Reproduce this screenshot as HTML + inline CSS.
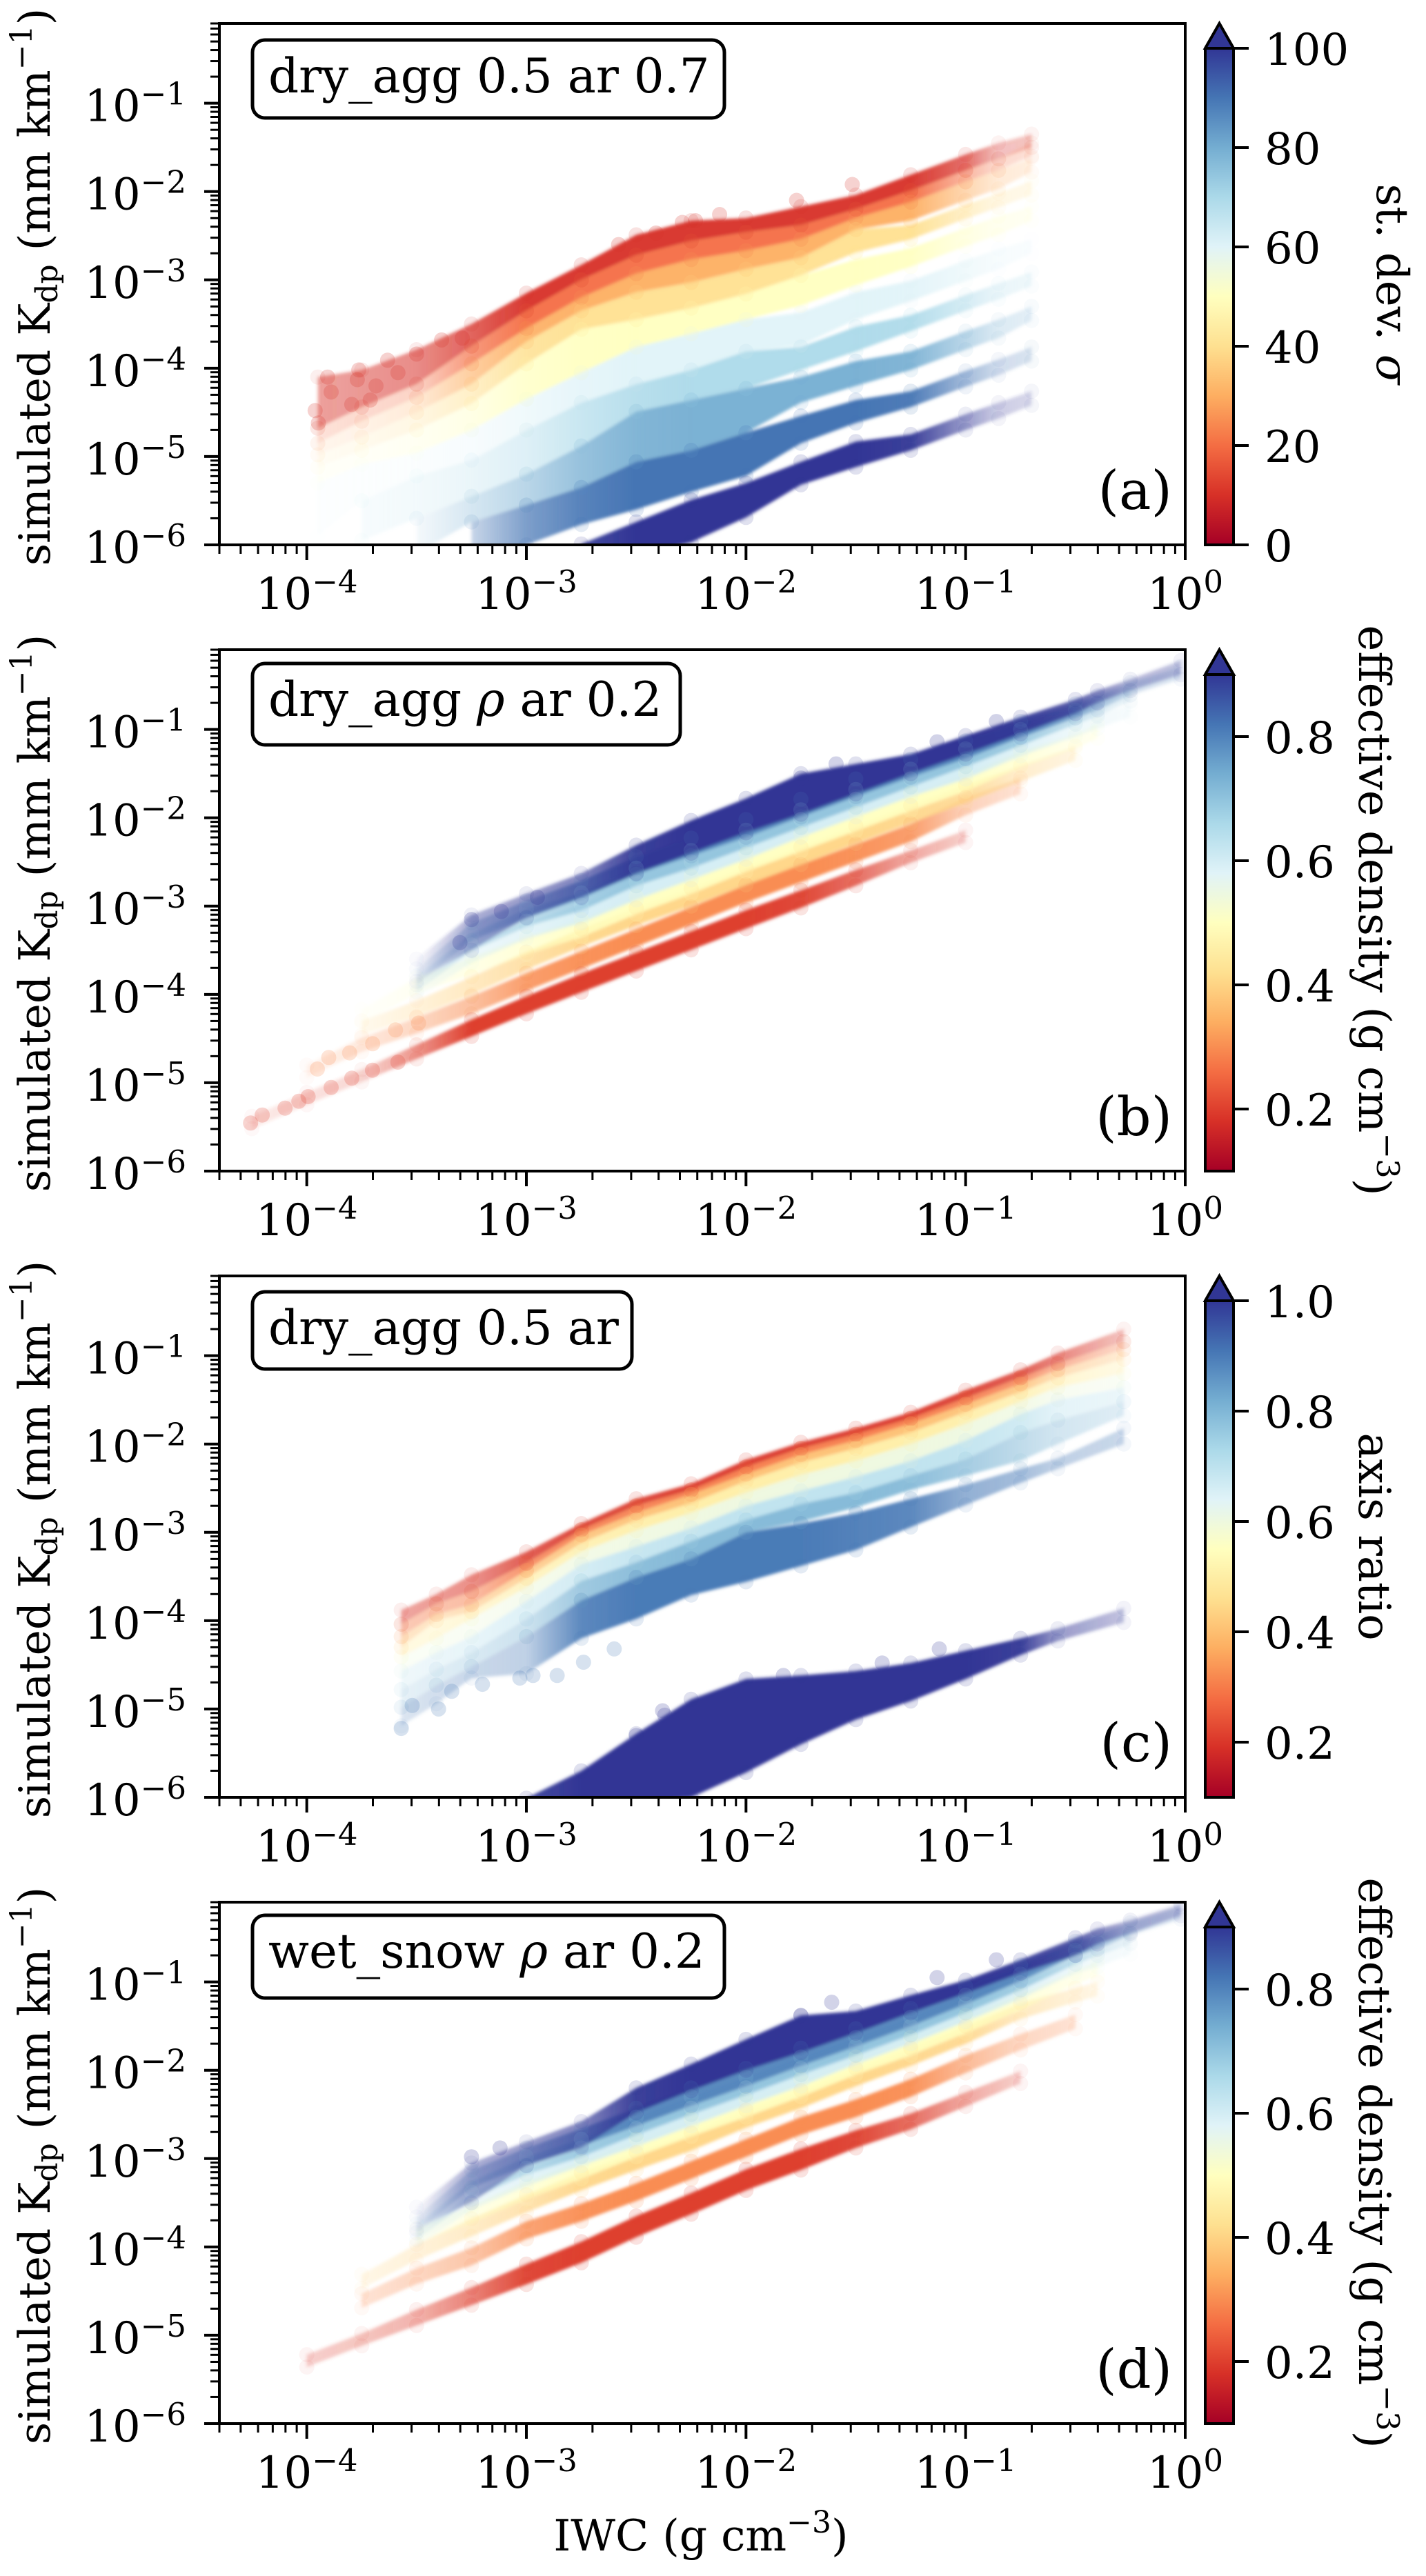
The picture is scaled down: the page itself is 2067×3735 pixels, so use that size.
<!DOCTYPE html>
<html lang="en">
<head>
<meta charset="utf-8">
<title>Simulated Kdp versus IWC</title>
<style>
html,body{margin:0;padding:0;background:#fff;}
svg{display:block;}
text{font-family:"DejaVu Serif","Liberation Serif",serif;fill:#000;}
</style>
</head>
<body>
<svg id="figure" xmlns="http://www.w3.org/2000/svg" width="2067" height="3735" viewBox="0 0 2067 3735">
<defs><filter id="soft" x="-5%" y="-5%" width="110%" height="110%"><feGaussianBlur stdDeviation="2.5"/></filter></defs>
</svg>
<script>
const _ = null;

/* shared axis ticks */
const xTickExponents = [-4,-3,-2,-1,0];
const yTickExponents = [-6,-5,-4,-3,-2,-1];
const colormapStops = ['#a50026','#d73027','#f46d43','#fdae61','#fee090','#ffffbf','#e0f3f8','#abd9e9','#74add1','#4575b4','#313695'];

/* panel (a): log10 IWC nodes and log10 Kdp envelopes per st. dev. */
const aIwc = [-3.95,-3.75,-3.5,-3.25,-3,-2.75,-2.5,-2.25,-2,-1.75,-1.5,-1.25,-1,-.85,-.7];
const aTop10 = [-4.10,-4.02,-3.79,-3.50,-3.15,-2.83,-2.49,-2.33,-2.30,-2.17,-2.04,-1.81,-1.58,-1.45,-1.35];
const aBot10 = [-4.68,-4.44,-4.18,-3.75,-3.35,-3.0,-2.72,-2.56,-2.46,-2.38,-2.20,-1.99,-1.76,-1.63,-1.5];
const aDen10 = [.45,.5,.55,.75,.95,.95,.95,.95,.95,.95,.95,.95,.7,.3,.28];
const aTop20 = [-4.68,-4.44,-4.18,-3.75,-3.35,-3.0,-2.72,-2.56,-2.46,-2.38,-2.20,-1.99,-1.76,-1.63,-1.45];
const aBot20 = [-4.85,-4.6,-4.33,-3.95,-3.55,-3.2,-2.93,-2.77,-2.67,-2.54,-2.30,-2.12,-1.89,-1.76,-1.6];
const aDen20 = [.2,.25,.3,.7,.95,.95,.95,.95,.95,.95,.95,.95,.5,.25,.22];
const aTop30 = [-4.85,-4.6,-4.33,-3.95,-3.55,-3.2,-2.93,-2.77,-2.67,-2.54,-2.30,-2.12,-1.89,-1.76,-1.62];
const aBot30 = [-4.98,-4.78,-4.5,-4.18,-3.7,-3.35,-3.14,-3.03,-2.88,-2.75,-2.43,-2.33,-2.10,-1.97,-1.78];
const aDen30 = [.12,.15,.25,.6,.9,.95,.95,.95,.95,.95,.95,.95,.5,.25,.2];
const aTop40 = [-4.98,-4.78,-4.5,-4.18,-3.7,-3.35,-3.14,-3.03,-2.88,-2.75,-2.43,-2.38,-2.15,-2.02,-1.88];
const aBot40 = [-5.12,-4.93,-4.7,-4.4,-3.95,-3.56,-3.45,-3.32,-3.16,-2.95,-2.69,-2.54,-2.31,-2.18,-2.04];
const aDen40 = [.1,.15,.25,.5,.85,.95,.95,.95,.95,.95,.95,.95,.5,.25,.2];
const aTop50 = [-5.12,-4.93,-4.7,-4.4,-3.95,-3.56,-3.45,-3.32,-3.16,-2.95,-2.77,-2.64,-2.41,-2.28,-2.17];
const aBot50 = [-5.3,-5.09,-4.96,-4.7,-4.35,-4.05,-3.76,-3.61,-3.45,-3.29,-3.06,-2.85,-2.62,-2.49,-2.33];
const aDen50 = [.1,.12,.2,.4,.75,.9,.95,.95,.95,.95,.95,.9,.45,.25,.2];
const aTop60 = [-5.3,-5.09,-4.96,-4.7,-4.35,-4.05,-3.76,-3.61,-3.45,-3.37,-3.14,-3.01,-2.78,-2.65,-2.54];
const aBot60 = [-5.9,-5.5,-5.22,-5.04,-4.7,-4.39,-4.18,-4.02,-3.81,-3.74,-3.45,-3.24,-3.01,-2.88,-2.7];
const aDen60 = [.1,.12,.15,.25,.5,.8,.95,.95,.95,.95,.95,.9,.5,.25,.2];
const aTop70 = [_,-5.5,-5.22,-5.04,-4.7,-4.39,-4.18,-4.02,-3.81,-3.76,-3.53,-3.40,-3.17,-3.04,-2.91];
const aBot70 = [_,-5.95,-5.7,-5.45,-5.2,-4.88,-4.49,-4.36,-4.23,-4.02,-3.81,-3.58,-3.35,-3.22,-3.07];
const aDen70 = [_,.1,.15,.25,.4,.65,.85,.95,.95,.95,.95,.9,.5,.25,.2];
const aTop80 = [_,_,-5.7,-5.45,-5.2,-4.88,-4.49,-4.36,-4.23,-4.10,-3.92,-3.81,-3.58,-3.45,-3.30];
const aBot80 = [_,_,-6.1,-5.74,-5.55,-5.35,-5.06,-4.93,-4.73,-4.39,-4.20,-4.02,-3.79,-3.66,-3.46];
const aDen80 = [_,_,.08,.3,.5,.75,.9,.95,.95,.95,.95,.9,.5,.25,.2];
const aTop90 = [_,_,_,-5.74,-5.55,-5.35,-5.06,-4.93,-4.73,-4.54,-4.36,-4.26,-4.03,-3.90,-3.76];
const aBot90 = [_,_,_,-6.2,-6.0,-5.77,-5.6,-5.4,-5.22,-4.85,-4.62,-4.44,-4.21,-4.08,-3.92];
const aDen90 = [_,_,_,.3,.7,.9,1,1,1,1,1,.95,.5,.25,.2];
const aTop100 = [_,_,_,_,_,-5.99,-5.74,-5.49,-5.30,-5.06,-4.83,-4.75,-4.52,-4.39,-4.26];
const aBot100 = [_,_,_,_,_,-6.2,-6.13,-5.97,-5.69,-5.32,-5.12,-4.93,-4.70,-4.57,-4.42];
const aDen100 = [_,_,_,_,_,.9,1,1,1,1,1,.95,.5,.25,.2];
const aValues = [10,20,30,40,50,60,70,80,90,100];
const aTicks = [0,20,40,60,80,100];
/* panel (a): individually visible low-density points at st. dev. 10 */
const aPointIwc = [-3.905,-3.947,-3.889,-3.962,-3.763,-3.77,-3.795,-3.685,-3.711,-3.632,-3.585,-3.50,-3.386,-3.292,-1.516,-1.77,-2.12,-2.23,-2.29,-2.41,-2.58];
const aPointKdp = [-4.10,-4.62,-4.27,-4.48,-4.02,-4.13,-4.41,-4.20,-4.36,-3.91,-4.05,-3.84,-3.68,-3.66,-1.92,-2.10,-2.26,-2.33,-2.35,-2.47,-2.60];

/* panel (b): centre and half-width of each effective density band */
const bIwc = [-4.25,-4,-3.75,-3.5,-3.25,-3,-2.75,-2.5,-2.25,-2,-1.75,-1.5,-1.25,-1,-.75,-.5,-.4,-.25,-.02];
const bSpread = [.07,.07,.08,.09,.1,.1,.1,.1,.1,.1,.1,.1,.1,.1,.09,.08,.08,.07,.07];
const bMid02 = [-5.45,-5.18,-4.92,-4.65,-4.38,-4.12,-3.87,-3.63,-3.39,-3.15,-2.92,-2.68,-2.44,-2.21,_,_,_,_,_];
const bSpread02 = [.07,.07,.07,.08,.095,.1,.105,.105,.105,.105,.1,.09,.07,.07,_,_,_,_,_];
const bDen02 = [.12,.15,.2,.55,1,1,1,1,1,1,.95,.75,.45,.25,_,_,_,_,_];
const bMid03 = [_,-4.87,-4.57,-4.35,-4.12,-3.86,-3.61,-3.36,-3.11,-2.86,-2.63,-2.40,-2.17,-1.87,-1.64,_,_,_,_];
const bDen03 = [_,.1,.2,.35,.55,.85,.95,1,1,1,1,.95,.85,.4,.25,_,_,_,_];
const bMid04 = [_,_,-4.38,-4.16,-3.90,-3.62,-3.36,-3.12,-2.90,-2.66,-2.43,-2.19,-1.96,-1.73,-1.50,-1.27,_,_,_];
const bDen04 = [_,_,.15,.3,.5,.7,.9,.95,.95,.95,.95,.95,.9,.8,.4,.25,_,_,_];
const bMid05 = [_,_,-4.25,-3.90,-3.68,-3.45,-3.25,-2.99,-2.76,-2.51,-2.28,-2.05,-1.82,-1.60,-1.34,-1.14,-1.02,_,_];
const bDen05 = [_,_,.08,.2,.4,.6,.85,.95,.95,.95,.95,.95,.95,.9,.6,.3,.25,_,_];
const bMid06 = [_,_,_,-3.95,-3.54,-3.27,-3.09,-2.83,-2.60,-2.37,-2.12,-1.89,-1.66,-1.46,-1.21,-1.0,-.91,-.79,_];
const bDen06 = [_,_,_,.1,.4,.6,.85,.95,.95,.95,.95,.95,.95,.95,.7,.4,.3,.2,_];
const bMid07 = [_,_,_,-3.88,-3.41,-3.13,-2.95,-2.67,-2.47,-2.24,-2.01,-1.78,-1.55,-1.32,-1.09,-.86,-.77,-.61,_];
const bDen07 = [_,_,_,.12,.35,.55,.8,.95,.95,.95,.95,.95,.95,.95,.8,.5,.3,.2,_];
const bMid08 = [_,_,_,-3.8,-3.29,-3.04,-2.81,-2.54,-2.33,-2.12,-1.89,-1.66,-1.44,-1.23,-1.0,-.79,-.70,-.54,-.36];
const bDen08 = [_,_,_,.08,.35,.5,.75,.95,.95,.95,.95,.95,.95,.95,.9,.6,.4,.25,.2];
const bTop09 = [_,_,_,-3.6,-3.1,-2.86,-2.63,-2.31,-2.03,-1.78,-1.50,-1.39,-1.28,-1.07,-.86,-.66,-.56,-.43,-.22];
const bBot09 = [_,_,_,-3.85,-3.5,-3.13,-2.90,-2.63,-2.40,-2.17,-1.96,-1.73,-1.50,-1.28,-1.05,-.82,-.70,-.56,-.38];
const bDen09 = [_,_,_,.03,.4,.5,.6,.95,1,1,1,1,1,1,.95,.8,.6,.35,.3];
const densityTicks = [.2,.4,.6,.8];
/* panel (b): individually visible low-density points */
const bLowIwc = [-4.256,-4.203,-4.099,-4.036,-3.994,-3.889,-3.795,-3.701,-3.585];
const bLowKdp = [-5.456,-5.365,-5.287,-5.209,-5.157,-5.053,-4.948,-4.858,-4.766];
const bMidIwc = [-3.952,-3.90,-3.805,-3.70,-3.596,-3.491];
const bMidKdp = [-4.844,-4.714,-4.662,-4.558,-4.402,-4.324];
const bHighIwc = [-3.25,-3.114,-3.303,-2.95,-1.75,-1.59,-.86,-1.13];
const bHighKdp = [-3.152,-3.061,-3.413,-2.90,-1.55,-1.39,-.91,-1.14];

/* panel (c): log10 Kdp edges per axis ratio band */
const cIwc = [-3.57,-3.41,-3.25,-3,-2.75,-2.5,-2.25,-2,-1.75,-1.5,-1.25,-1,-.75,-.58,-.28];
const cEdge0 = [-3.88,-3.70,-3.48,-3.22,-2.90,-2.62,-2.45,-2.18,-1.98,-1.82,-1.64,-1.39,-1.16,-.97,-.70];
const cEdge1 = [-4.04,-3.81,-3.67,-3.35,-2.97,-2.70,-2.52,-2.26,-2.05,-1.89,-1.71,-1.48,-1.25,-1.09,-.84];
const cEdge2 = [-4.18,-3.93,-3.82,-3.43,-3.03,-2.78,-2.57,-2.34,-2.12,-1.96,-1.77,-1.55,-1.32,-1.16,-.93];
const cEdge3 = [-4.30,-4.0,-3.90,-3.52,-3.12,-2.86,-2.67,-2.42,-2.21,-2.05,-1.87,-1.64,-1.41,-1.25,-1.04];
const cEdge4 = [-4.41,-4.20,-3.98,-3.62,-3.22,-2.98,-2.78,-2.55,-2.35,-2.19,-2.0,-1.77,-1.52,-1.36,-1.20];
const cEdge5 = [-4.57,-4.36,-4.18,-3.78,-3.36,-3.16,-2.95,-2.70,-2.53,-2.37,-2.19,-1.96,-1.66,-1.50,-1.36];
const cEdge6 = [-4.78,-4.55,-4.36,-3.98,-3.55,-3.34,-3.10,-2.86,-2.68,-2.55,-2.36,-2.17,-1.87,-1.73,-1.52];
const cEdge7 = [-4.98,-4.73,-4.52,-4.18,-3.77,-3.51,-3.30,-3.0,-2.88,-2.72,-2.52,-2.36,-2.19,-2.0,-1.68];
const cTop09 = [-4.98,-4.73,-4.52,-4.18,-3.77,-3.51,-3.30,-3.0,-2.90,-2.78,-2.62,-2.46,-2.28,-2.16,-1.82];
const cBot09 = [-5.19,-4.94,-4.65,-4.60,-4.2,-3.98,-3.71,-3.56,-3.38,-3.20,-2.94,-2.69,-2.44,-2.28,-2.0];
const cTop10 = [_,_,_,-6.01,-5.70,-5.28,-4.89,-4.66,-4.62,-4.57,-4.48,-4.34,-4.20,-4.09,-3.86];
const cBot10 = [_,_,_,-6.1,-6.08,-6.06,-6.0,-5.72,-5.40,-5.12,-4.91,-4.66,-4.39,-4.23,-4.02];
const cDen02 = [.45,.5,.55,.8,.9,.9,.95,.95,.95,.95,.95,.9,.8,.6,.3];
const cDen03 = [.4,.45,.5,.8,.9,.9,.95,.95,.95,.95,.95,.9,.8,.55,.3];
const cDen04 = [.4,.4,.5,.7,.85,.9,.95,.95,.95,.95,.95,.9,.8,.5,.3];
const cDen05 = [.35,.35,.45,.65,.8,.9,.95,.95,.95,.95,.95,.9,.75,.5,.3];
const cDen06 = [.3,.3,.35,.55,.75,.85,.9,.95,.95,.95,.95,.9,.75,.45,.3];
const cDen07 = [.25,.3,.35,.5,.65,.85,.9,.95,.95,.95,.95,.9,.7,.4,.3];
const cDen08 = [.2,.25,.3,.4,.75,.9,.95,.95,.95,.95,.9,.7,.5,.35,.25];
const cDen09 = [.2,.25,.3,.35,.9,1,1,1,1,.95,.9,.6,.5,.35,.3];
const cDen10 = [_,_,_,.9,1,1,1,1,1,1,1,1,.95,.5,.3];
const ratioTicks = [.2,.4,.6,.8,1.0];
/* panel (c): individually visible low-density points at axis ratio 0.9 and 1.0 */
const cTailIwc = [-3.57,-3.52,-3.40,-3.34,-3.20,-3.03,-2.97,-2.86,-2.74,-2.6];
const cTailKdp = [-5.22,-4.96,-5.0,-4.8,-4.72,-4.65,-4.62,-4.62,-4.47,-4.32];
const cNavyIwc = [-1.12,-1.38,-1.83,-2.02,-2.37,-2.5,-2.38];
const cNavyKdp = [-4.32,-4.48,-4.62,-4.80,-5.07,-5.3,-5.02];

/* panel (d): centre and half-width of each effective density band */
const dIwc = [-4.25,-4,-3.75,-3.5,-3.25,-3,-2.75,-2.5,-2.25,-2,-1.75,-1.5,-1.25,-1,-.75,-.5,-.4,-.25,-.02];
const dSpread = [.07,.07,.08,.09,.1,.1,.1,.1,.1,.1,.1,.1,.1,.1,.09,.08,.08,.07,.07];
const dMid02 = [_,-5.29,-5.05,-4.80,-4.56,-4.31,-4.06,-3.77,-3.51,-3.24,-3.01,-2.78,-2.58,-2.33,-2.08,_,_,_,_];
const dSpread02 = [_,.07,.07,.09,.1,.115,.12,.12,.12,.12,.12,.1,.09,.08,.07,_,_,_,_];
const dDen02 = [_,.25,.3,.4,.65,.95,1,1,1,1,1,.95,.75,.45,.25,_,_,_,_];
const dMid03 = [_,_,-4.61,-4.33,-4.11,-3.81,-3.61,-3.38,-3.13,-2.88,-2.63,-2.43,-2.20,-1.93,-1.68,-1.45,_,_,_];
const dDen03 = [_,_,.25,.35,.5,.8,.95,1,1,1,1,1,.95,.6,.35,.25,_,_,_];
const dMid04 = [_,_,-4.39,-4.06,-3.78,-3.51,-3.26,-3.03,-2.81,-2.55,-2.33,-2.08,-1.85,-1.60,-1.33,-1.15,-1.08,_,_];
const dDen04 = [_,_,.2,.3,.45,.65,.9,.95,.95,.95,.95,.95,.9,.85,.5,.3,.2,_,_];
const dMid05 = [_,_,_,-3.88,-3.63,-3.36,-3.13,-2.88,-2.65,-2.43,-2.20,-1.95,-1.73,-1.48,-1.23,-.95,-.85,_,_];
const dDen05 = [_,_,_,.2,.4,.6,.85,.95,.95,.95,.95,.95,.95,.9,.6,.3,.25,_,_];
const dMid06 = [_,_,_,-3.9,-3.48,-3.21,-2.98,-2.76,-2.53,-2.30,-2.08,-1.83,-1.60,-1.35,-1.10,-.82,-.75,-.62,_];
const dDen06 = [_,_,_,.1,.4,.6,.85,.95,.95,.95,.95,.95,.95,.95,.7,.4,.3,.2,_];
const dMid07 = [_,_,_,-3.83,-3.36,-3.08,-2.88,-2.63,-2.40,-2.18,-1.95,-1.73,-1.50,-1.25,-1.00,-.72,-.62,-.50,_];
const dDen07 = [_,_,_,.12,.35,.55,.8,.95,.95,.95,.95,.95,.95,.95,.8,.5,.3,.2,_];
const dMid08 = [_,_,_,-3.75,-3.23,-2.98,-2.76,-2.53,-2.30,-2.08,-1.85,-1.63,-1.40,-1.15,-.90,-.62,-.55,-.40,-.22];
const dDen08 = [_,_,_,.08,.35,.5,.75,.95,.95,.95,.95,.95,.95,.95,.9,.6,.4,.25,.2];
const dTop09 = [_,_,_,-3.55,-3.05,-2.81,-2.58,-2.20,-1.93,-1.65,-1.38,-1.33,-1.15,-.98,-.75,-.50,-.40,-.30,-.12];
const dBot09 = [_,_,_,-3.8,-3.5,-3.08,-2.88,-2.48,-2.23,-2.00,-1.80,-1.58,-1.35,-1.13,-.90,-.70,-.57,-.45,-.25];
const dDen09 = [_,_,_,.03,.4,.5,.6,.95,1,1,1,1,1,1,.95,.8,.6,.35,.3];
/* panel (d): individually visible low-density points */
const dHighIwc = [-3.25,-3.12,-1.75,-1.61,-.86,-1.13];
const dHighKdp = [-2.98,-2.88,-1.38,-1.23,-.75,-.95];

const svg = document.getElementById('figure');
const NS = 'http://www.w3.org/2000/svg';
const plotLeft = 318, plotRight = 1718, plotHeight = 756, barLeft = 1747, barRight = 1788, arrowHeight = 36;
const xLogMin = Math.log10(4e-5), yLogMin = -6, yLogMax = Math.log10(0.8);

function xScale(logIwc){ return plotLeft + (logIwc - xLogMin) / (0 - xLogMin) * (plotRight - plotLeft); }
function yScale(logKdp, bottom){ return bottom - (logKdp - yLogMin) / (yLogMax - yLogMin) * plotHeight; }
function make(tag, parent, attrs){
  const node = document.createElementNS(NS, tag);
  for (const k in attrs) node.setAttribute(k, attrs[k]);
  parent.appendChild(node);
  return node;
}
function hex(c){ return [parseInt(c.substr(1,2),16),parseInt(c.substr(3,2),16),parseInt(c.substr(5,2),16)]; }
function colormap(t){
  const p = Math.max(0, Math.min(1, t)) * (colormapStops.length - 1);
  const i = Math.min(Math.floor(p), colormapStops.length - 2);
  const a = hex(colormapStops[i]), b = hex(colormapStops[i + 1]), f = p - i;
  return 'rgb(' + a.map((v, n) => Math.round(v + (b[n] - v) * f)).join(',') + ')';
}
function fromCentre(mid, spread, side){ return mid.map((v, i) => v === null ? null : v + side * spread[i]); }
function minus(n){ return n < 0 ? '\u2212' + (-n) : String(n); }
let gradientCount = 0;

function drawBand(layer, dots, panel, iwc, top, bot, den, norm, bottom){
  const idx = iwc.map((v, i) => i).filter(i => top[i] !== null && top[i] !== undefined);
  const color = colormap(norm);
  const x0 = xScale(iwc[idx[0]]), x1 = xScale(iwc[idx[idx.length - 1]]);
  const id = 'band-fill-' + (++gradientCount);
  const defs = svg.querySelector('defs');
  const grad = make('linearGradient', defs, {id: id, gradientUnits: 'userSpaceOnUse', x1: x0, x2: x1, y1: 0, y2: 0});
  idx.forEach(i => make('stop', grad, {offset: (xScale(iwc[i]) - x0) / (x1 - x0), 'stop-color': color, 'stop-opacity': den[i]}));
  const upper = idx.map(i => xScale(iwc[i]).toFixed(1) + ',' + yScale(top[i], bottom).toFixed(1));
  const lower = idx.slice().reverse().map(i => xScale(iwc[i]).toFixed(1) + ',' + yScale(bot[i], bottom).toFixed(1));
  const band = make('polygon', layer, {points: upper.concat(lower).join(' '), fill: 'url(#' + id + ')'});
  
  
  idx.forEach(i => {
    [top[i], bot[i]].forEach(v => {
      const dot = make('circle', dots, {cx: xScale(iwc[i]).toFixed(1), cy: yScale(v, bottom).toFixed(1), r: 11, fill: color, 'fill-opacity': (0.13 * den[i] + 0.02).toFixed(3)});
      
      
    });
  });
}

function drawPoints(dots, panel, iwc, kdp, norm, bottom){
  const color = colormap(norm);
  iwc.forEach((v, i) => {
    const dot = make('circle', dots, {cx: xScale(v).toFixed(1), cy: yScale(kdp[i], bottom).toFixed(1), r: 11, fill: color, 'fill-opacity': 0.22});
    
    
  });
}

function drawAxes(panel, top, bottom){
  const g = make('g', svg, {});
  
  
  const frame = make('rect', g, {x: plotLeft, y: top, width: plotRight - plotLeft, height: plotHeight, fill: 'none', stroke: '#000', 'stroke-width': 4});
  
  
  for (let d = -5; d <= 0; d++) for (let k = 2; k <= 9; k++) {
    const v = d + Math.log10(k) - 1;
    if (v < xLogMin - 1e-6 || v > 0) continue;
    const tick = make('line', g, {x1: xScale(v), x2: xScale(v), y1: bottom, y2: bottom + 13, stroke: '#000', 'stroke-width': 3});
    
    
  }
  for (let d = -6; d <= -1; d++) for (let k = 2; k <= 9; k++) {
    const v = d + Math.log10(k);
    if (v > yLogMax + 1e-6) continue;
    const tick = make('line', g, {x1: plotLeft - 13, x2: plotLeft, y1: yScale(v, bottom), y2: yScale(v, bottom), stroke: '#000', 'stroke-width': 3});
    
    
  }
  xTickExponents.forEach(e => {
    const tick = make('line', g, {x1: xScale(e), x2: xScale(e), y1: bottom, y2: bottom + 22, stroke: '#000', 'stroke-width': 4});
    
    
    const label = make('text', g, {x: xScale(e), y: bottom + 93, 'font-size': 64, 'text-anchor': 'middle'});
    
    
    label.innerHTML = '10<tspan dy="-24" font-size="45">' + minus(e) + '</tspan>';
  });
  yTickExponents.forEach(e => {
    const tick = make('line', g, {x1: plotLeft - 22, x2: plotLeft, y1: yScale(e, bottom), y2: yScale(e, bottom), stroke: '#000', 'stroke-width': 4});
    
    
    const label = make('text', g, {x: 270, y: yScale(e, bottom) + 26, 'font-size': 64, 'text-anchor': 'end'});
    
    
    label.innerHTML = '10<tspan dy="-24" font-size="45">' + minus(e) + '</tspan>';
  });
  const yTitle = make('text', g, {transform: 'translate(72,' + (bottom - 374) + ') rotate(-90)', 'font-size': 63, 'text-anchor': 'middle'});
  
  
  yTitle.innerHTML = 'simulated K<tspan dy="11" font-size="44">dp</tspan><tspan dy="-11"> (mm km</tspan><tspan dy="-26" font-size="44">\u22121</tspan><tspan dy="26">)</tspan>';
}

function drawColorbar(panel, top, bottom, vMin, vMax, ticks, format, title, titleX){
  const g = make('g', svg, {});
  
  
  const id = 'bar-' + panel;
  const defs = svg.querySelector('defs');
  const grad = make('linearGradient', defs, {id: id, x1: 0, x2: 0, y1: 1, y2: 0});
  colormapStops.forEach((c, i) => make('stop', grad, {offset: i / (colormapStops.length - 1), 'stop-color': c}));
  const barTop = top + arrowHeight;
  const fill = make('rect', g, {x: barLeft, y: barTop, width: barRight - barLeft, height: bottom - barTop, fill: 'url(#' + id + ')'});
  
  
  const outline = make('polygon', g, {points: barLeft + ',' + bottom + ' ' + barLeft + ',' + barTop + ' ' + ((barLeft + barRight) / 2) + ',' + top + ' ' + barRight + ',' + barTop + ' ' + barRight + ',' + bottom, fill: 'none', stroke: '#000', 'stroke-width': 4});
  
  
  const cap = make('polygon', g, {points: barLeft + ',' + barTop + ' ' + ((barLeft + barRight) / 2) + ',' + top + ' ' + barRight + ',' + barTop, fill: '#313695', stroke: '#000', 'stroke-width': 4});
  
  
  ticks.forEach(v => {
    const y = bottom - (v - vMin) / (vMax - vMin) * (bottom - barTop);
    const tick = make('line', g, {x1: barRight, x2: barRight + 22, y1: y, y2: y, stroke: '#000', 'stroke-width': 4});
    
    
    const label = make('text', g, {x: 1833, y: y + 24, 'font-size': 64});
    
    
    label.textContent = format(v);
  });
  const t = make('text', g, {transform: 'translate(' + titleX + ',' + (bottom - 378) + ') rotate(90)', 'font-size': 64, 'text-anchor': 'middle'});
  
  
  t.innerHTML = title;
}

function drawPanel(panel, top, series, points, iwc, vMin, vMax, label, boxWidth, boxY, boxH, letter){
  const bottom = top + plotHeight;
  const clipId = 'clip-' + panel;
  const clip = make('clipPath', svg.querySelector('defs'), {id: clipId});
  make('rect', clip, {x: plotLeft, y: top, width: plotRight - plotLeft, height: plotHeight});
  const outer = make('g', svg, {'clip-path': 'url(#' + clipId + ')'});
  
  
  const bands = make('g', outer, {filter: 'url(#soft)'});
  const dots = make('g', outer, {});
  series.forEach(s => drawBand(bands, dots, panel, iwc, s.top, s.bot, s.den, (s.value - vMin) / (vMax - vMin), bottom));
  points.forEach(p => drawPoints(dots, panel, p.iwc, p.kdp, (p.value - vMin) / (vMax - vMin), bottom));
  drawAxes(panel, top, bottom);
  const box = make('rect', svg, {x: 366, y: boxY, width: boxWidth, height: boxH, rx: 18, fill: '#fff', stroke: '#000', 'stroke-width': 5});
  
  
  const text = make('text', svg, {x: 389, y: boxY + 76, 'font-size': 69});
  
  
  text.innerHTML = label;
  const tag = make('text', svg, {x: 1699, y: bottom - 52, 'font-size': 78, 'text-anchor': 'end'});
  
  
  tag.textContent = letter;
}

const rho = '<tspan font-style="italic">\u03C1</tspan>';
const densityTitle = 'effective density (g cm<tspan dy="-26" font-size="45">\u22123</tspan><tspan dy="26">)</tspan>';

drawPanel('panel-a', 34, [
  {value: aValues[0], top: aTop10, bot: aBot10, den: aDen10},
  {value: aValues[1], top: aTop20, bot: aBot20, den: aDen20},
  {value: aValues[2], top: aTop30, bot: aBot30, den: aDen30},
  {value: aValues[3], top: aTop40, bot: aBot40, den: aDen40},
  {value: aValues[4], top: aTop50, bot: aBot50, den: aDen50},
  {value: aValues[5], top: aTop60, bot: aBot60, den: aDen60},
  {value: aValues[6], top: aTop70, bot: aBot70, den: aDen70},
  {value: aValues[7], top: aTop80, bot: aBot80, den: aDen80},
  {value: aValues[8], top: aTop90, bot: aBot90, den: aDen90},
  {value: aValues[9], top: aTop100, bot: aBot100, den: aDen100}
], [{value: 10, iwc: aPointIwc, kdp: aPointKdp}], aIwc, 0, 100, 'dry_agg 0.5 ar 0.7', 684, 58, 113, '(a)');
drawColorbar('panel-a', 34, 790, 0, 100, aTicks, v => String(v), 'st. dev. <tspan font-style="italic">\u03C3</tspan>', 1996);

drawPanel('panel-b', 942, [
  {value: .2, top: fromCentre(bMid02, bSpread02, 1), bot: fromCentre(bMid02, bSpread02, -1), den: bDen02},
  {value: .3, top: fromCentre(bMid03, bSpread, 1), bot: fromCentre(bMid03, bSpread, -1), den: bDen03},
  {value: .4, top: fromCentre(bMid04, bSpread, 1), bot: fromCentre(bMid04, bSpread, -1), den: bDen04},
  {value: .5, top: fromCentre(bMid05, bSpread, 1), bot: fromCentre(bMid05, bSpread, -1), den: bDen05},
  {value: .6, top: fromCentre(bMid06, bSpread, 1), bot: fromCentre(bMid06, bSpread, -1), den: bDen06},
  {value: .7, top: fromCentre(bMid07, bSpread, 1), bot: fromCentre(bMid07, bSpread, -1), den: bDen07},
  {value: .8, top: fromCentre(bMid08, bSpread, 1), bot: fromCentre(bMid08, bSpread, -1), den: bDen08},
  {value: .9, top: bTop09, bot: bBot09, den: bDen09}
], [{value: .2, iwc: bLowIwc, kdp: bLowKdp}, {value: .3, iwc: bMidIwc, kdp: bMidKdp}, {value: .9, iwc: bHighIwc, kdp: bHighKdp}], bIwc, .1, .9, 'dry_agg ' + rho + ' ar 0.2', 620, 962, 118, '(b)');
drawColorbar('panel-b', 942, 1698, .1, .9, densityTicks, v => v.toFixed(1), densityTitle, 1970);

drawPanel('panel-c', 1850, [
  {value: .2, top: cEdge0, bot: cEdge1, den: cDen02},
  {value: .3, top: cEdge1, bot: cEdge2, den: cDen03},
  {value: .4, top: cEdge2, bot: cEdge3, den: cDen04},
  {value: .5, top: cEdge3, bot: cEdge4, den: cDen05},
  {value: .6, top: cEdge4, bot: cEdge5, den: cDen06},
  {value: .7, top: cEdge5, bot: cEdge6, den: cDen07},
  {value: .8, top: cEdge6, bot: cEdge7, den: cDen08},
  {value: .9, top: cTop09, bot: cBot09, den: cDen09},
  {value: 1.0, top: cTop10, bot: cBot10, den: cDen10}
], [{value: .9, iwc: cTailIwc, kdp: cTailKdp}, {value: 1.0, iwc: cNavyIwc, kdp: cNavyKdp}], cIwc, .1, 1.0, 'dry_agg 0.5 ar', 550, 1873, 112, '(c)');
drawColorbar('panel-c', 1850, 2606, .1, 1.0, ratioTicks, v => v.toFixed(1), 'axis ratio', 1970);

drawPanel('panel-d', 2758, [
  {value: .2, top: fromCentre(dMid02, dSpread02, 1), bot: fromCentre(dMid02, dSpread02, -1), den: dDen02},
  {value: .3, top: fromCentre(dMid03, dSpread, 1), bot: fromCentre(dMid03, dSpread, -1), den: dDen03},
  {value: .4, top: fromCentre(dMid04, dSpread, 1), bot: fromCentre(dMid04, dSpread, -1), den: dDen04},
  {value: .5, top: fromCentre(dMid05, dSpread, 1), bot: fromCentre(dMid05, dSpread, -1), den: dDen05},
  {value: .6, top: fromCentre(dMid06, dSpread, 1), bot: fromCentre(dMid06, dSpread, -1), den: dDen06},
  {value: .7, top: fromCentre(dMid07, dSpread, 1), bot: fromCentre(dMid07, dSpread, -1), den: dDen07},
  {value: .8, top: fromCentre(dMid08, dSpread, 1), bot: fromCentre(dMid08, dSpread, -1), den: dDen08},
  {value: .9, top: dTop09, bot: dBot09, den: dDen09}
], [{value: .9, iwc: dHighIwc, kdp: dHighKdp}], dIwc, .1, .9, 'wet_snow ' + rho + ' ar 0.2', 684, 2777, 120, '(d)');
drawColorbar('panel-d', 2758, 3514, .1, .9, densityTicks, v => v.toFixed(1), densityTitle, 1970);

const xTitle = make('text', svg, {x: 1016, y: 3698, 'font-size': 63, 'text-anchor': 'middle'});


xTitle.innerHTML = 'IWC (g cm<tspan dy="-26" font-size="44">\u22123</tspan><tspan dy="26">)</tspan>';
</script>
</body>
</html>
